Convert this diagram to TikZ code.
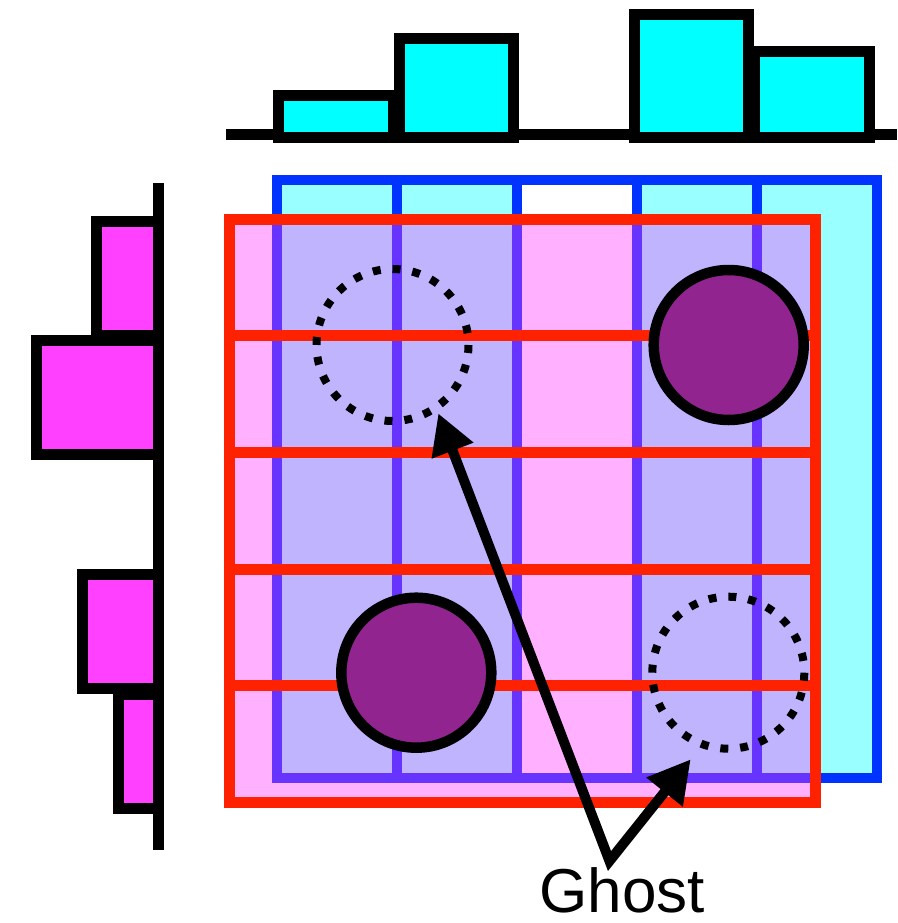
\documentclass[tikz,border=0pt]{standalone}
\usepackage{fontspec}
\setmainfont{Liberation Sans}
\usetikzlibrary{arrows.meta}
\definecolor{barcyan}{HTML}{00FFFF}
\definecolor{colcyan}{HTML}{99FFFF}
\definecolor{gridblue}{HTML}{0033FF}
\definecolor{gridpurple}{HTML}{6633FF}
\definecolor{lav}{HTML}{C0B4FF}
\definecolor{pinkfill}{HTML}{FFB0FF}
\definecolor{gridred}{HTML}{FF2200}
\definecolor{barmag}{HTML}{FF40FF}
\definecolor{blob}{HTML}{922490}
\tikzset{
  hbar/.style={draw=black, line width=11pt, fill=barcyan, line join=miter},
  vbar/.style={draw=black, line width=11pt, fill=barmag, line join=miter},
  axisline/.style={draw=black, line width=10.5pt},
  blueline/.style={draw=gridblue, line width=10pt},
  purpline/.style={draw=gridpurple, line width=10pt},
  redline/.style={draw=gridred, line width=11pt},
  particle/.style={draw=black, line width=10.5pt, fill=blob},
  ghostcirc/.style={draw=black, line width=8pt, dash pattern=on 8pt off 11.9pt},
  ghostarrow/.style={draw=black, line width=10pt, line join=miter,
     {Triangle[length=40pt,width=42pt]}-{Triangle[length=42pt,width=44pt]}},
}
\begin{document}
\begin{tikzpicture}[x=1pt,y=-1pt]
\useasboundingbox (0,0) rectangle (897,923);
% ---- top histogram
\draw[axisline] (226,134.5) -- (897,134.5);
\draw[hbar] (278.5,96) rectangle (393.5,137.8);
\draw[hbar] (399,38.8) rectangle (513.8,137.8);
\draw[hbar] (634.4,15) rectangle (748.4,137.8);
\draw[hbar] (754,51.2) rectangle (869.6,137.8);
% ---- left histogram
\draw[axisline] (158.7,183) -- (158.7,850);
\draw[vbar] (96.7,221) rectangle (158.5,335);
\draw[vbar] (36.7,340.4) rectangle (158.5,454);
\draw[vbar] (82,574.8) rectangle (158.5,688.5);
\draw[vbar] (118,694) rectangle (158.5,808.6);
% ---- blue grid fills
\fill[colcyan] (277,180) rectangle (517,778);
\fill[colcyan] (637,180) rectangle (877,778);
% ---- pink overlay region (red rectangle)
\fill[pinkfill] (229,219) rectangle (815,802);
\fill[lav] (277,219) rectangle (517,778);
\fill[lav] (637,219) rectangle (815,778);
% ---- blue grid lines
\draw[blueline] (277,180) rectangle (877,778);
\foreach \x in {397,517,637,757} \draw[blueline] (\x,180) -- (\x,778);
\begin{scope}
  \clip (229,219) rectangle (815,802);
  \draw[purpline] (277,180) rectangle (877,778);
  \foreach \x in {397,517,637,757} \draw[purpline] (\x,180) -- (\x,778);
\end{scope}
% ---- red grid
\foreach \y in {335.8,452.5,569,685.6} \draw[redline] (229,\y) -- (815,\y);
\draw[redline] (229,219) rectangle (815,802);
% ---- particles
\draw[particle] (728.7,345) circle[radius=75];
\draw[particle] (416.3,672.7) circle[radius=75];
\draw[ghostcirc] (392.5,345) circle[radius=76];
\draw[ghostcirc] (728.3,672.7) circle[radius=76];
% ---- label and arrows
\node[anchor=base, inner sep=0pt, font=\fontsize{62}{62}\selectfont] (ghost) at (622,912) {Ghost};
\coordinate (v) at (609.5,861);
\coordinate (t1) at (438.3,413.3);
\coordinate (t2) at (690.7,759.3);
\draw[ghostarrow] (t1) -- (v) -- (t2);
\end{tikzpicture}
\end{document}
